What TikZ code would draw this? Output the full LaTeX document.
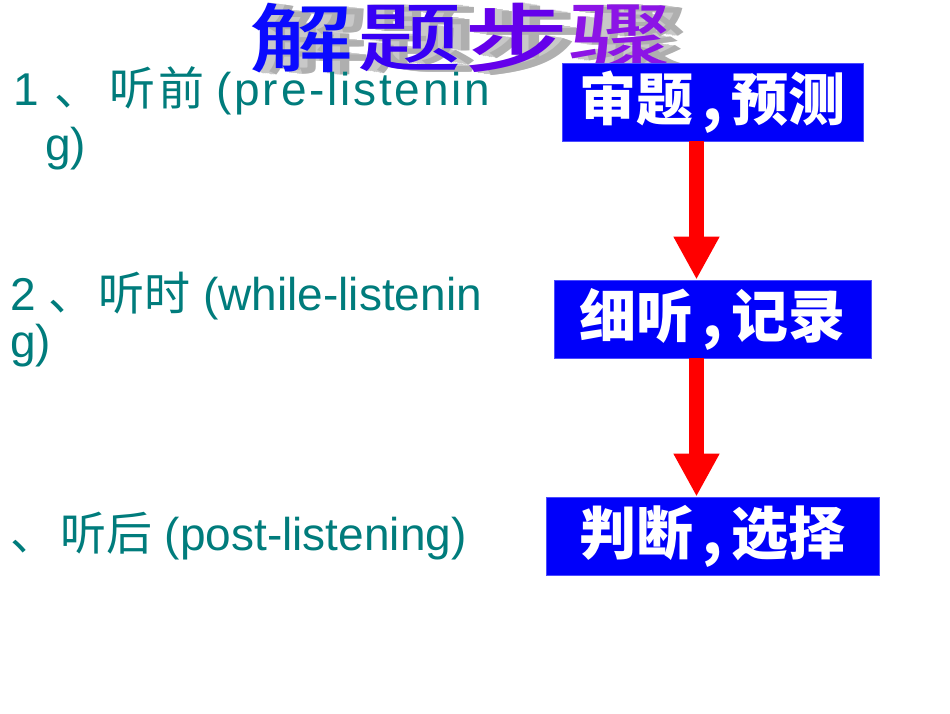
\documentclass[tikz,border=0pt]{standalone}
\usepackage{fontspec}
\setmainfont{Liberation Sans}
\newfontfamily\cjk{Noto Sans CJK SC}
\newfontfamily\cjkm{Noto Sans CJK SC Medium}
\usetikzlibrary{arrows.meta}
\definecolor{teal1}{RGB}{0,124,124}
\definecolor{boxblue}{RGB}{0,0,250}
\definecolor{arrred}{RGB}{255,0,0}
\definecolor{t1}{RGB}{10,10,255}
\definecolor{t2}{RGB}{55,0,245}
\definecolor{t3}{RGB}{100,0,235}
\definecolor{t4}{RGB}{140,20,230}
\definecolor{shad}{RGB}{200,200,200}
\definecolor{shadedge}{RGB}{175,175,175}
\tikzset{
  lt/.style={anchor=base west,inner sep=0pt,text=teal1,font=\fontsize{46}{55}\selectfont},
  stepbox/.style={fill=boxblue,draw=blue!70!white,line width=0.8pt,minimum height=78pt,inner sep=0pt,text=white,font=\cjk\bfseries\fontsize{57}{60}\selectfont},
  redarrow/.style={draw=arrred,line width=15pt,-{Triangle[width=43pt,length=43pt,fill=arrred]}},
  tch/.style={inner sep=0pt,font=\cjkm\fontsize{75}{80}\selectfont,xscale=1.39},
}
\begin{document}
\begin{tikzpicture}[x=1pt,y=-1pt]
\useasboundingbox (0,0) rectangle (950,713);
\fill[white] (0,0) rectangle (950,713);
% title shadow
\foreach \i in {16,14,...,2}{
  \foreach \c/\x in {解/302,题/410,步/517,骤/621}{
    \node[tch,text=shad] at (\x+\i,38+0.15*\i) {\c};
  }
}
\foreach \c/\x in {解/302,题/410,步/517,骤/621}{
  \node[tch,text=shadedge] at (\x+17,38+2.5) {\c};
}
\node[tch,text=t1] (tt1) at (302,38) {解};
\node[tch,text=t2] (tt2) at (410,38) {题};
\node[tch,text=t3] (tt3) at (517,38) {步};
\node[tch,text=t4] (tt4) at (621,38) {骤};
% left text
\node[lt] (l1) at (13,105) {1 {\cjk \hspace{3pt}、\hspace{9pt}听\hspace{3pt}前}\hspace{12pt}{\addfontfeature{LetterSpace=6}(pre-listenin}};
\node[lt] (l1b) at (45,160) {g)};
\node[lt] (l2) at (10,310) {2 {\cjk 、\hspace{4pt}听时} (while-listenin};
\node[lt] (l2b) at (10,357) {g)};
\node[lt] (l3) at (10,550) {{\cjk 、\hspace{4pt}听后} (post-listening)};
% boxes
\node[stepbox,minimum width=301pt] (b1) at (712.5,102) {\raisebox{-4pt}{审题\,,\,预测}};
\node[stepbox,minimum width=317pt] (b2) at (712.5,319) {\raisebox{-4pt}{细听\,,\,记录}};
\node[stepbox,minimum width=333pt] (b3) at (712.5,536) {\raisebox{-4pt}{判断\,,\,选择}};
% arrows
\draw[redarrow] ([xshift=-16pt]b1.south) -- ([xshift=-16pt]b2.north);
\draw[redarrow] ([xshift=-16pt]b2.south) -- ([xshift=-16pt]b3.north);
\end{tikzpicture}
\end{document}
